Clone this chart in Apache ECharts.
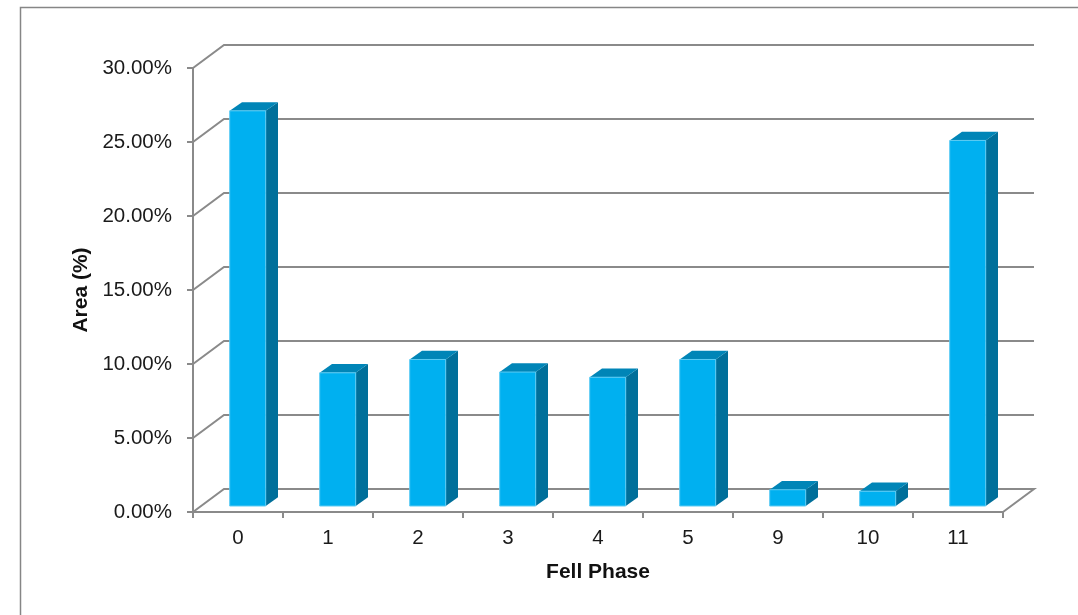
<!DOCTYPE html>
<html>
<head>
<meta charset="utf-8">
<script src="https://cdn.jsdelivr.net/npm/echarts@6/dist/echarts.min.js"></script>
<style>
  html, body { margin: 0; padding: 0; background: #ffffff; }
  #chart { width: 1078px; height: 615px; }
</style>
</head>
<body>
<div id="chart"></div>
<script>
// Fell phase categories and the share of area (in %) for each
const phases = ['0', '1', '2', '3', '4', '5', '9', '10', '11'];
const areaPct = [26.7, 9.0, 9.9, 9.05, 8.7, 9.9, 1.1, 1.0, 24.7];
// value-axis ticks, also used for the back-wall gridlines
const gridTicks = [0, 5, 10, 15, 20, 25, 30];

// Oblique "3D" offsets in pixels
const WALL = [31, -23];        // front plane -> back wall
const BAR_FRONT = [9.7, -6];   // front plane -> front face of each column
const BAR_DEPTH = [12.3, -8.7];// column thickness along the depth direction
const BAR_FRAC = 0.4;          // column width as a share of the category band

const FONT = '"Liberation Sans", Arial, sans-serif';
const AXIS_GREY = '#8a8a8a';

const chart = echarts.init(document.getElementById('chart'), null, { renderer: 'canvas' });

// Floor outline and back-wall gridlines, one polyline per tick value
function renderWall(params, api) {
  const v = api.value(1);
  const p = api.coord([0, v]);
  const cw = api.size([1, 0])[0];
  const x0 = p[0] - cw / 2;
  const y = p[1];
  const x1 = x0 + cw * phases.length;
  const pts = [[x0, y], [x0 + WALL[0], y + WALL[1]], [x1 + WALL[0], y + WALL[1]]];
  if (v === 0) pts.push([x1, y]);
  return {
    type: 'polyline',
    shape: { points: pts },
    style: { stroke: AXIS_GREY, lineWidth: 2, fill: null }
  };
}

// One shaded column: front face, right side and top
function renderColumn(params, api) {
  const i = api.value(0);
  const v = api.value(1);
  const top = api.coord([i, v]);
  const base = api.coord([i, 0]);
  const w = api.size([1, 0])[0] * BAR_FRAC;
  const l = top[0] - w / 2 + BAR_FRONT[0];
  const r = l + w;
  const yt = top[1] + BAR_FRONT[1];
  const yb = base[1] + BAR_FRONT[1];
  const dx = BAR_DEPTH[0], dy = BAR_DEPTH[1];
  return {
    type: 'group',
    children: [
      {
        type: 'polygon',
        shape: { points: [[r, yt], [r + dx, yt + dy], [r + dx, yb + dy], [r, yb]] },
        style: { fill: '#006f9a' }
      },
      {
        type: 'polygon',
        shape: { points: [[l, yt], [r, yt], [r + dx, yt + dy], [l + dx, yt + dy]] },
        style: { fill: '#0085b7' }
      },
      {
        type: 'rect',
        shape: { x: l, y: yt, width: w, height: yb - yt },
        style: { fill: '#00b0f0', stroke: '#5ccbf3', lineWidth: 1 }
      }
    ]
  };
}

const option = {
  animation: false,
  backgroundColor: '#ffffff',
  graphic: [
    {
      type: 'rect',
      shape: { x: 20.5, y: 7.5, width: 1100, height: 700 },
      style: { fill: null, stroke: '#868686', lineWidth: 1.5 },
      silent: true
    }
  ],
  grid: { left: 193, top: 68, width: 810, height: 444, containLabel: false },
  xAxis: {
    type: 'category',
    data: phases,
    boundaryGap: true,
    axisLine: { show: true, lineStyle: { color: AXIS_GREY, width: 2 } },
    axisTick: { show: true, length: 6, alignWithLabel: false, lineStyle: { color: AXIS_GREY, width: 2 } },
    axisLabel: { fontSize: 20.5, color: '#1a1a1a', fontFamily: FONT, margin: 16 },
    splitLine: { show: false },
    name: 'Fell Phase',
    nameLocation: 'middle',
    nameGap: 50,
    nameTextStyle: { fontSize: 21, fontWeight: 'bold', color: '#111111', fontFamily: FONT }
  },
  yAxis: {
    type: 'value',
    min: 0,
    max: 30,
    interval: 5,
    axisLine: { show: true, lineStyle: { color: AXIS_GREY, width: 2 } },
    axisTick: { show: true, length: 6, lineStyle: { color: AXIS_GREY, width: 2 } },
    axisLabel: {
      fontSize: 20.5, color: '#1a1a1a', fontFamily: FONT, margin: 21,
      padding: [5, 0, 0, 0],
      formatter: v => v.toFixed(2) + '%'
    },
    splitLine: { show: false },
    name: 'Area (%)',
    nameLocation: 'middle',
    nameGap: 97,
    nameTextStyle: { fontSize: 21, fontWeight: 'bold', color: '#111111', fontFamily: FONT }
  },
  series: [
    {
      type: 'custom',
      name: 'wall',
      z: 1,
      silent: true,
      renderItem: renderWall,
      data: gridTicks.map(v => [0, v])
    },
    {
      type: 'custom',
      name: 'Area (%)',
      z: 3,
      renderItem: renderColumn,
      data: areaPct.map((v, i) => [i, v])
    }
  ]
};

chart.setOption(option);
</script>
</body>
</html>
